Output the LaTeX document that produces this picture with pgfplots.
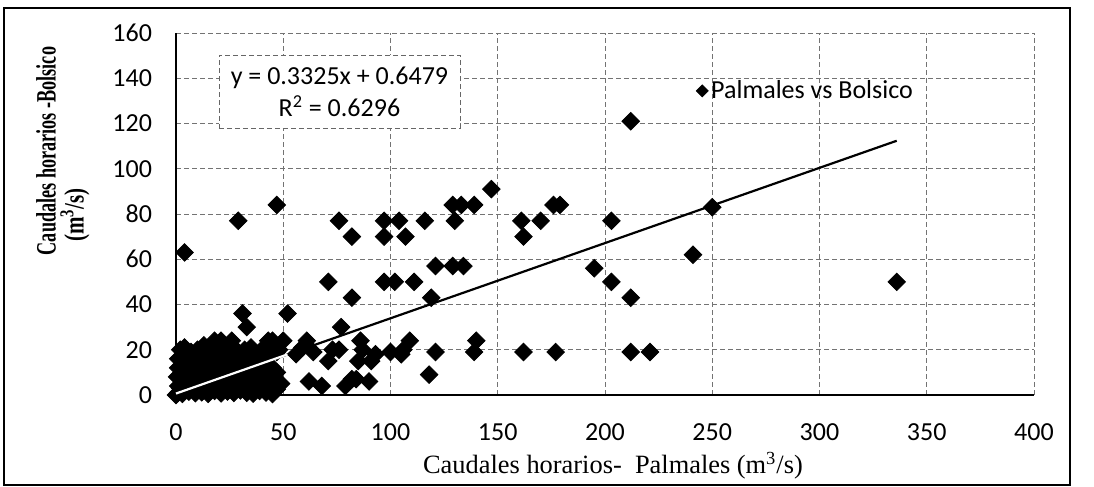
\documentclass[border=0pt]{standalone}
\usepackage{fontspec}
\setmainfont{Carlito}
\newfontfamily\tnr{Liberation Serif}
\usepackage{pgfplots}
\pgfplotsset{compat=1.18}
\usepackage{graphicx}
\begin{document}
\begin{tikzpicture}
\useasboundingbox (0pt,0pt) rectangle (547pt,243.5pt);
\begin{axis}[
  at={(88pt,46pt)}, anchor=south west,
  scale only axis, width=429pt, height=181pt,
  xmin=0, xmax=400, ymin=0, ymax=160,
  xtick={0,50,...,400}, ytick={0,20,...,160},
  axis x line*=bottom, axis y line*=left,
  axis line style={line width=1pt, black},
  major tick length=0pt,
  grid=major,
  major grid style={dash pattern=on 2.5pt off 1.5pt, black!55, line width=0.45pt},
  /pgf/number format/assume math mode=true,
  tick label style={font=\fontsize{13}{15}\selectfont},
  xticklabel style={anchor=center, yshift=-18.5pt},
  yticklabel style={anchor=east, xshift=-8.5pt},
  clip=false, clip marker paths=true,
  legend style={at={(0.606,0.84)}, anchor=west, draw=none, fill=none,
    font=\fontsize{13}{15}\selectfont, inner sep=0pt,
    nodes={inner sep=1.5pt}},
  legend image code/.code={\draw[black, mark=square*, mark size=2.1pt, mark options={rotate=45, fill=black}] plot coordinates {(0pt,0pt)};},
]
\addplot[only marks, mark=square*, mark size=3.1pt, mark options={rotate=45, fill=black, draw=black}] coordinates {
(0,0) (1,1) (3,0.5) (6,1.5) (9,0.8) (12,1.2) (15,0.5) (18,1.8) (21,0.7) (24,1.5) (27,0.9) (30,2) (33,1) (36,0.6) (39,1.8) (42,1.1) (45,0.4) (47,2.5)
(1,4) (2,3) (4,5) (7,4) (10,3) (13,5) (16,4) (19,6) (22,3.5) (25,5) (28,4) (31,6) (34,3.5) (37,5) (40,4) (43,6) (46,4) (48,5.5)
(0.5,8) (2,7) (5,9) (8,8) (11,10) (14,7) (17,9) (20,8) (23,10) (26,7.5) (29,9) (32,8) (35,10) (38,7) (41,9) (44,8) (47,10)
(1,12) (3,11) (6,13) (9,12) (12,14) (15,11) (18,13) (21,12) (24,14) (27,11) (30,13) (33,12) (36,14) (39,11) (42,13) (45,12)
(1,16) (3,15) (5,17) (8,16) (11,18) (14,15) (17,17) (20,16) (23,18) (28,16) (31,18) (34,15) (38,17) (41,16) (44,18)
(2,20) (4,21) (7,19) (10,20) (13,22) (16,19) (19,21) (22,20) (25,22) (29,19) (35,21) (40,20) (43,22) (47,19)
(18,24) (21,24) (26,24) (45,24) (32,20)
(4,63) (29,77) (47,84) (71,50) (76,77) (82,70) (82,43) (97,77) (104,77) (97,70) (107,70) (97,50) (102,50) (111,50)
(116,77) (121,57) (119,43) (129,57) (134,57) (129,84) (133,84) (139,84) (130,77) (147,91) (161,77) (170,77) (162,70)
(176,84) (179,84) (203,77) (195,56) (203,50) (212,43) (212,121) (250,83) (241,62) (336,50)
(77,30) (86,24) (87,20) (109,24) (106,20) (100,19) (121,19) (140,24) (139,19) (162,19) (118,9) (62,6) (68,4) (79,4)
(82,7) (84,7) (90,6) (73,20) (71,15) (85,15) (93,18) (91,15) (105,18) (61,24) (59,21) (64,19) (56,18) (52,36) (31,36)
(33,30) (50,24) (43,24) (177,19) (212,19) (221,19) (76,20) (49,5) (48,20)
};
\addlegendentry{Palmales vs Bolsico}
\addplot[black, line width=1.1pt, forget plot] coordinates {(0,0.6479) (336,112.37)};
\addplot[white, line width=1.1pt, forget plot] coordinates {(0,0.6479) (52,17.94)};
\node[draw=black!60, dash pattern=on 2.5pt off 1.5pt, fill=white, minimum width=120.5pt, minimum height=36.5pt,
  align=center, font=\fontsize{13}{16}\selectfont, inner sep=0pt] at (axis cs:76.2,134.1)
  {y = 0.3325x + 0.6479\\R\textsuperscript{2} = 0.6296};
\end{axis}
\node[rotate=90, font=\tnr\bfseries\fontsize{14}{16}\selectfont, inner sep=0pt] at (23pt,168pt) {\scalebox{0.65}[1]{Caudales horarios -Bolsico}};
\node[rotate=90, font=\tnr\bfseries\fontsize{14}{16}\selectfont, inner sep=0pt] at (37.5pt,136pt) {\scalebox{0.75}[1]{(m\textsuperscript{3}/s)}};
\node[font=\tnr\fontsize{13.2}{15}\selectfont] at (306.5pt,10.5pt) {Caudales horarios-\ \ Palmales (m\textsuperscript{3}/s)};
\draw[black, line width=0.6pt] (2pt,1pt) rectangle (535pt,239.5pt);
\end{tikzpicture}
\end{document}
